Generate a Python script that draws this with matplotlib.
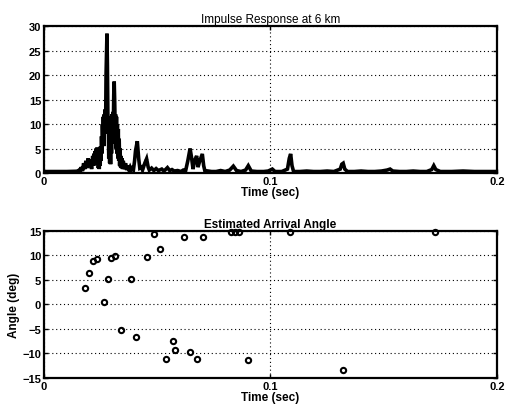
import matplotlib
matplotlib.use("Agg")
import matplotlib.pyplot as plt
import numpy as np

plt.rcParams['font.family'] = ['Liberation Sans', 'DejaVu Sans']

# Impulse response envelope: time (ms) and amplitude
resp_t_ms = [0, 5, 10, 14, 15, 15.5, 16, 16.5, 17, 17.5, 18, 18.5, 19, 19.5, 20, 20.5,
             21, 21.5, 22.0, 22.2, 22.4, 22.6, 22.8, 23.0, 23.2, 23.4, 23.6, 23.8,
             24.0, 24.2, 24.4, 24.6, 24.8, 25.0, 25.2, 25.4, 25.6, 25.8, 26.0, 26.2,
             26.4, 26.6, 26.8, 27.0, 27.2, 27.4, 27.6, 27.8, 28.0, 28.2, 28.4, 28.6,
             28.8, 29.0, 29.2, 29.4, 29.6, 29.8, 30.0, 30.2, 30.4, 30.6, 30.8, 31.0,
             31.2, 31.4, 31.6, 31.8, 32.0, 32.2, 32.4, 32.6, 32.8, 33.0, 33.2, 33.4,
             33.6, 33.8, 34.0, 34.2, 34.4, 34.7, 35.0, 35.5, 36, 36.5, 37, 37.5, 38,
             38.5, 39, 39.5, 40, 40.4, 41.2, 41.8, 42.3, 43, 43.5, 44.5, 45.3, 46,
             46.5, 47.5, 48.5, 49.5, 50.5, 52, 53, 54.5, 55.5, 56.5, 57.5, 59, 60.5,
             61.5, 62.5, 63.5, 64.5, 65.2, 65.8, 66.5, 67.4, 68, 68.6, 69.9, 70.5, 71,
             72.5, 74, 76, 78, 80, 82, 83.6, 85, 87, 89, 90.2, 91.5, 94, 97, 99, 100.8,
             102, 105, 107.5, 108.3, 108.9, 109.5, 110.2, 113, 116, 119, 122, 125, 128,
             130.8, 131.5, 132.1, 132.8, 134, 137, 140, 143, 146, 149, 151.5, 152.8,
             154, 157, 160, 163, 166, 169, 171.2, 172.1, 173, 175, 180, 185, 190, 195,
             200]
resp_amp = [0.3, 0.3, 0.3, 0.35, 0.4, 0.6, 0.3, 1.2, 0.4, 2.0, 0.8, 2.5, 1.0, 3.0, 1.2, 2.8,
            0.8, 3.5, 1.5, 4.0, 2.0, 4.5, 1.8, 5.0, 2.5, 5.2, 2.0, 4.2,
            1.0, 3.5, 0.8, 4.0, 1.5, 5.5, 2.5, 7.5, 4.0, 10.0, 6.0, 11.5,
            5.5, 12.0, 8.0, 13.0, 9.0, 20.0, 24.0, 28.5, 22.0, 12.0, 10.5, 3.0,
            11.0, 2.0, 10.0, 1.8, 11.5, 4.0, 12.0, 6.0, 12.5, 9.0, 16.0, 18.7,
            15.0, 10.0, 12.0, 5.0, 11.5, 4.0, 10.0, 3.0, 9.0, 2.5, 7.0, 1.5,
            5.0, 1.2, 3.5, 1.0, 3.0, 0.8, 2.5, 0.8, 2.0, 0.6, 1.5, 0.7, 1.2,
            0.6, 1.0, 0.7, 2.5, 4.5, 6.5, 3.0, 1.0, 1.2, 0.6, 2.0, 2.9, 1.2,
            0.6, 1.0, 0.5, 0.9, 0.5, 0.8, 0.4, 1.1, 0.5, 0.7, 0.4, 0.5, 0.3,
            0.6, 0.4, 2.5, 5.0, 3.0, 0.8, 2.5, 3.5, 1.2, 2.2, 3.9, 1.5, 0.5,
            0.4, 0.3, 0.3, 0.5, 0.3, 0.6, 1.4, 0.5, 0.3, 0.6, 1.5, 0.4, 0.3, 0.3, 0.4, 0.8,
            0.3, 0.3, 0.8, 3.0, 3.9, 1.5, 0.3, 0.3, 0.4, 0.3, 0.3, 0.4, 0.3,
            0.8, 1.8, 2.0, 0.8, 0.3, 0.3, 0.4, 0.3, 0.3, 0.4, 0.6, 0.8,
            0.4, 0.3, 0.3, 0.4, 0.3, 0.3, 0.7, 1.5, 0.7, 0.3, 0.3, 0.4, 0.3, 0.3,
            0.3]

# Estimated arrival angles: time (sec) and angle (deg)
arr_time = [0.0182, 0.0197, 0.0215, 0.0235, 0.0265, 0.0281, 0.0294, 0.0312, 0.0341,
            0.0383, 0.0408, 0.0453, 0.0486, 0.0511, 0.0540, 0.0571, 0.0577, 0.0619,
            0.0646, 0.0675, 0.0700, 0.0825, 0.0843, 0.0860, 0.0902, 0.1086, 0.1321,
            0.1726]
arr_angle = [3.3, 6.3, 8.8, 9.2, 0.5, 5.1, 9.5, 9.8, -5.2,
             5.2, -6.7, 9.7, 14.3, 11.3, -11.1, -7.5, -9.2, 13.8,
             -9.7, -11.1, 13.8, 14.7, 14.7, 14.7, -11.4, 14.7, -13.4,
             14.7]

resp_t = np.array(resp_t_ms) / 1000.0

fig = plt.figure(figsize=(5.08, 4.10), dpi=100)
ax1 = fig.add_axes([0.0866, 0.5756, 0.8917, 0.3578])
ax2 = fig.add_axes([0.0866, 0.0756, 0.8917, 0.3593])


def style(ax):
    for s in ax.spines.values():
        s.set_linewidth(1.6)
    ax.tick_params(direction='in', length=3, width=1, top=True, right=True,
                   labelsize=8, pad=2)
    for lab in ax.get_xticklabels() + ax.get_yticklabels():
        lab.set_fontweight('bold')
    ax.grid(True, color='black', linestyle=(0, (1, 2.5)), linewidth=0.8)


ax1.plot(resp_t, resp_amp, color='black', linewidth=2.6, solid_joinstyle='miter')
ax1.set_xlim(0, 0.2)
ax1.set_ylim(0, 30)
ax1.set_xticks([0, 0.1, 0.2])
ax1.set_xticklabels(['0', '0.1', '0.2'])
ax1.set_yticks([0, 5, 10, 15, 20, 25, 30])
style(ax1)
ax1.set_title('Impulse Response at 6 km', fontsize=8.5, pad=3)
ax1.set_xlabel('Time (sec)', fontsize=8.5, fontweight='bold', labelpad=0)

ax2.plot(arr_time, arr_angle, linestyle='none', marker='o', markersize=3.8,
         markerfacecolor='none', markeredgecolor='black', markeredgewidth=1.5,
         clip_on=False)
ax2.set_xlim(0, 0.2)
ax2.set_ylim(-15, 15)
ax2.set_xticks([0, 0.1, 0.2])
ax2.set_xticklabels(['0', '0.1', '0.2'])
ax2.set_yticks([-15, -10, -5, 0, 5, 10, 15])
style(ax2)
ax2.set_title('Estimated Arrival Angle', fontsize=8.5, fontweight='bold', pad=3)
ax2.set_xlabel('Time (sec)', fontsize=8.5, fontweight='bold', labelpad=0)
ax2.set_ylabel('Angle (deg)', fontsize=8.5, fontweight='bold', labelpad=2)

fig.savefig('out.png', dpi=100)
